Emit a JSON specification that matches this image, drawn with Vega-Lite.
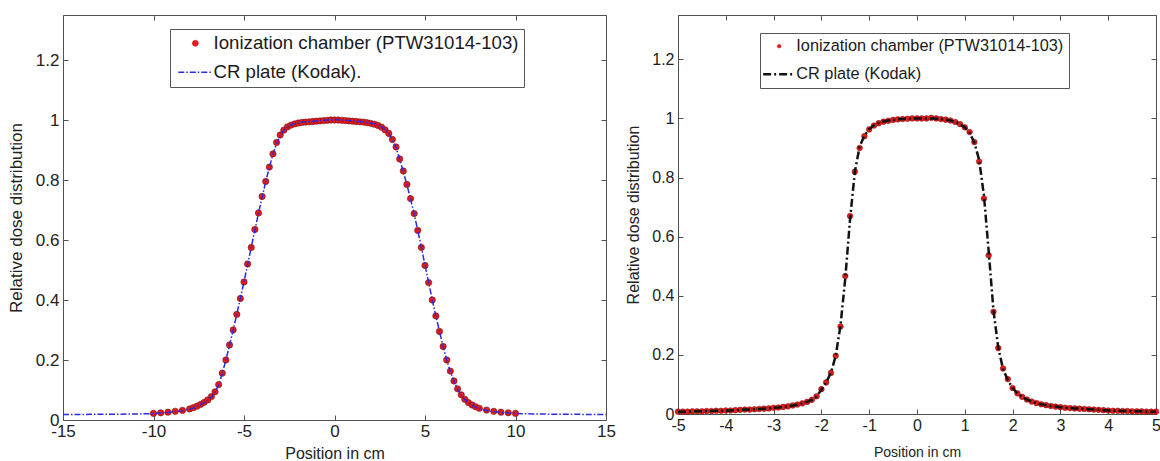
{
  "$schema": "https://vega.github.io/schema/vega-lite/v6.json",
  "background": "white",
  "padding": {"left": 7, "top": 9, "right": 0, "bottom": 2},
  "spacing": 9,
  "config": {
    "font": "Liberation Sans",
    "view": {"stroke": null},
    "axis": {
      "grid": false,
      "labelFlush": false,
      "labelOverlap": false,
      "domainColor": "#505050",
      "domainWidth": 1,
      "tickColor": "#505050",
      "tickSize": -5,
      "labelPadding": 8,
      "labelFont": "Liberation Sans",
      "labelColor": "#222222",
      "titleFont": "Liberation Sans",
      "titleFontWeight": "normal",
      "titleColor": "#222222"
    }
  },
  "resolve": {
    "scale": {"x": "independent", "y": "independent", "color": "independent"},
    "legend": {"color": "independent"}
  },
  "datasets": {
    "left": [
      {"x": -15, "ion": null, "cr": 0.018}, {"x": -14.5, "ion": null, "cr": 0.018}, {"x": -14, "ion": null, "cr": 0.018},
      {"x": -13.5, "ion": null, "cr": 0.019}, {"x": -13, "ion": null, "cr": 0.019}, {"x": -12.5, "ion": null, "cr": 0.019},
      {"x": -12, "ion": null, "cr": 0.019}, {"x": -11.5, "ion": null, "cr": 0.02}, {"x": -11, "ion": null, "cr": 0.02},
      {"x": -10.5, "ion": null, "cr": 0.021},
      {"x": -10, "ion": 0.022, "cr": 0.021}, {"x": -9.6, "ion": 0.024, "cr": 0.023}, {"x": -9.2, "ion": 0.026, "cr": 0.025},
      {"x": -8.8, "ion": 0.029, "cr": 0.028}, {"x": -8.4, "ion": 0.032, "cr": 0.031}, {"x": -8, "ion": 0.037, "cr": 0.036},
      {"x": -7.8, "ion": 0.041, "cr": 0.04}, {"x": -7.6, "ion": 0.046, "cr": 0.045}, {"x": -7.4, "ion": 0.052, "cr": 0.051},
      {"x": -7.2, "ion": 0.059, "cr": 0.058}, {"x": -7, "ion": 0.067, "cr": 0.066}, {"x": -6.8, "ion": 0.078, "cr": 0.077},
      {"x": -6.6, "ion": 0.094, "cr": 0.093}, {"x": -6.4, "ion": 0.118, "cr": 0.117}, {"x": -6.2, "ion": 0.156, "cr": 0.155},
      {"x": -6, "ion": 0.2, "cr": 0.2}, {"x": -5.8, "ion": 0.25, "cr": 0.249}, {"x": -5.6, "ion": 0.3, "cr": 0.3},
      {"x": -5.4, "ion": 0.352, "cr": 0.352}, {"x": -5.2, "ion": 0.405, "cr": 0.406}, {"x": -5, "ion": 0.46, "cr": 0.461},
      {"x": -4.8, "ion": 0.52, "cr": 0.518}, {"x": -4.6, "ion": 0.575, "cr": 0.576}, {"x": -4.4, "ion": 0.635, "cr": 0.633},
      {"x": -4.2, "ion": 0.69, "cr": 0.689}, {"x": -4, "ion": 0.745, "cr": 0.743}, {"x": -3.8, "ion": 0.795, "cr": 0.794},
      {"x": -3.6, "ion": 0.843, "cr": 0.842}, {"x": -3.4, "ion": 0.887, "cr": 0.886}, {"x": -3.2, "ion": 0.925, "cr": 0.922},
      {"x": -3, "ion": 0.95, "cr": 0.949}, {"x": -2.8, "ion": 0.966, "cr": 0.966}, {"x": -2.6, "ion": 0.977, "cr": 0.977},
      {"x": -2.4, "ion": 0.983, "cr": 0.984}, {"x": -2.2, "ion": 0.987, "cr": 0.988}, {"x": -2, "ion": 0.99, "cr": 0.991},
      {"x": -1.8, "ion": 0.992, "cr": 0.993}, {"x": -1.6, "ion": 0.993, "cr": 0.994}, {"x": -1.4, "ion": 0.994, "cr": 0.995},
      {"x": -1.2, "ion": 0.995, "cr": 0.996}, {"x": -1, "ion": 0.996, "cr": 0.997}, {"x": -0.8, "ion": 0.997, "cr": 0.998},
      {"x": -0.6, "ion": 0.998, "cr": 0.999}, {"x": -0.4, "ion": 0.999, "cr": 1.0}, {"x": -0.2, "ion": 1.0, "cr": 1.001},
      {"x": 0, "ion": 1.0, "cr": 1.001}, {"x": 0.2, "ion": 1.0, "cr": 1.001}, {"x": 0.4, "ion": 0.999, "cr": 1.0},
      {"x": 0.6, "ion": 0.998, "cr": 0.999}, {"x": 0.8, "ion": 0.997, "cr": 0.998}, {"x": 1, "ion": 0.996, "cr": 0.997},
      {"x": 1.2, "ion": 0.995, "cr": 0.996}, {"x": 1.4, "ion": 0.994, "cr": 0.995}, {"x": 1.6, "ion": 0.993, "cr": 0.994},
      {"x": 1.8, "ion": 0.991, "cr": 0.992}, {"x": 2, "ion": 0.989, "cr": 0.99}, {"x": 2.2, "ion": 0.986, "cr": 0.987},
      {"x": 2.4, "ion": 0.982, "cr": 0.983}, {"x": 2.6, "ion": 0.976, "cr": 0.977}, {"x": 2.8, "ion": 0.967, "cr": 0.968},
      {"x": 3, "ion": 0.955, "cr": 0.955}, {"x": 3.2, "ion": 0.935, "cr": 0.934}, {"x": 3.4, "ion": 0.91, "cr": 0.908},
      {"x": 3.6, "ion": 0.87, "cr": 0.869}, {"x": 3.8, "ion": 0.83, "cr": 0.828}, {"x": 4, "ion": 0.785, "cr": 0.784},
      {"x": 4.2, "ion": 0.738, "cr": 0.737}, {"x": 4.4, "ion": 0.688, "cr": 0.687}, {"x": 4.6, "ion": 0.632, "cr": 0.632},
      {"x": 4.8, "ion": 0.575, "cr": 0.575}, {"x": 5, "ion": 0.515, "cr": 0.516}, {"x": 5.2, "ion": 0.458, "cr": 0.458},
      {"x": 5.4, "ion": 0.4, "cr": 0.401}, {"x": 5.6, "ion": 0.347, "cr": 0.347}, {"x": 5.8, "ion": 0.295, "cr": 0.295},
      {"x": 6, "ion": 0.245, "cr": 0.245}, {"x": 6.2, "ion": 0.2, "cr": 0.2}, {"x": 6.4, "ion": 0.163, "cr": 0.162},
      {"x": 6.6, "ion": 0.13, "cr": 0.129}, {"x": 6.8, "ion": 0.104, "cr": 0.103}, {"x": 7, "ion": 0.084, "cr": 0.083},
      {"x": 7.2, "ion": 0.069, "cr": 0.068}, {"x": 7.4, "ion": 0.058, "cr": 0.057}, {"x": 7.6, "ion": 0.05, "cr": 0.049},
      {"x": 7.8, "ion": 0.044, "cr": 0.043}, {"x": 8, "ion": 0.039, "cr": 0.038}, {"x": 8.4, "ion": 0.033, "cr": 0.032},
      {"x": 8.8, "ion": 0.029, "cr": 0.028}, {"x": 9.2, "ion": 0.026, "cr": 0.025}, {"x": 9.6, "ion": 0.024, "cr": 0.023},
      {"x": 10, "ion": 0.022, "cr": 0.022},
      {"x": 10.5, "ion": null, "cr": 0.021}, {"x": 11, "ion": null, "cr": 0.02}, {"x": 11.5, "ion": null, "cr": 0.02},
      {"x": 12, "ion": null, "cr": 0.019}, {"x": 12.5, "ion": null, "cr": 0.019}, {"x": 13, "ion": null, "cr": 0.019},
      {"x": 13.5, "ion": null, "cr": 0.019}, {"x": 14, "ion": null, "cr": 0.018}, {"x": 14.5, "ion": null, "cr": 0.018},
      {"x": 15, "ion": null, "cr": 0.018}
    ],
    "right": [
      {"x": -5, "ion": 0.008, "cr": 0.008}, {"x": -4.9, "ion": 0.008, "cr": 0.008}, {"x": -4.8, "ion": 0.008, "cr": 0.008},
      {"x": -4.7, "ion": 0.009, "cr": 0.009}, {"x": -4.6, "ion": 0.009, "cr": 0.009}, {"x": -4.5, "ion": 0.009, "cr": 0.009},
      {"x": -4.4, "ion": 0.01, "cr": 0.01}, {"x": -4.3, "ion": 0.01, "cr": 0.01}, {"x": -4.2, "ion": 0.011, "cr": 0.011},
      {"x": -4.1, "ion": 0.011, "cr": 0.011}, {"x": -4, "ion": 0.012, "cr": 0.012}, {"x": -3.9, "ion": 0.012, "cr": 0.012},
      {"x": -3.8, "ion": 0.013, "cr": 0.013}, {"x": -3.7, "ion": 0.014, "cr": 0.014}, {"x": -3.6, "ion": 0.015, "cr": 0.015},
      {"x": -3.5, "ion": 0.015, "cr": 0.015}, {"x": -3.4, "ion": 0.016, "cr": 0.016}, {"x": -3.3, "ion": 0.017, "cr": 0.017},
      {"x": -3.2, "ion": 0.018, "cr": 0.018}, {"x": -3.1, "ion": 0.019, "cr": 0.019}, {"x": -3, "ion": 0.021, "cr": 0.021},
      {"x": -2.9, "ion": 0.022, "cr": 0.022}, {"x": -2.8, "ion": 0.024, "cr": 0.024}, {"x": -2.7, "ion": 0.026, "cr": 0.026},
      {"x": -2.6, "ion": 0.029, "cr": 0.029}, {"x": -2.5, "ion": 0.032, "cr": 0.032}, {"x": -2.4, "ion": 0.036, "cr": 0.036},
      {"x": -2.3, "ion": 0.041, "cr": 0.041}, {"x": -2.2, "ion": 0.048, "cr": 0.048}, {"x": -2.1, "ion": 0.06, "cr": 0.06},
      {"x": -2, "ion": 0.084, "cr": 0.082}, {"x": -1.9, "ion": 0.107, "cr": 0.107}, {"x": -1.8, "ion": 0.139, "cr": 0.14},
      {"x": -1.7, "ion": 0.197, "cr": 0.197}, {"x": -1.6, "ion": 0.296, "cr": 0.3}, {"x": -1.5, "ion": 0.467, "cr": 0.46},
      {"x": -1.4, "ion": 0.67, "cr": 0.66}, {"x": -1.3, "ion": 0.82, "cr": 0.82}, {"x": -1.2, "ion": 0.9, "cr": 0.905},
      {"x": -1.1, "ion": 0.94, "cr": 0.942}, {"x": -1, "ion": 0.963, "cr": 0.964}, {"x": -0.9, "ion": 0.976, "cr": 0.977},
      {"x": -0.8, "ion": 0.984, "cr": 0.985}, {"x": -0.7, "ion": 0.989, "cr": 0.99}, {"x": -0.6, "ion": 0.992, "cr": 0.993},
      {"x": -0.5, "ion": 0.995, "cr": 0.995}, {"x": -0.4, "ion": 0.997, "cr": 0.997}, {"x": -0.3, "ion": 0.998, "cr": 0.998},
      {"x": -0.2, "ion": 0.999, "cr": 0.999}, {"x": -0.1, "ion": 1.0, "cr": 1.0}, {"x": 0, "ion": 1.0, "cr": 1.0},
      {"x": 0.1, "ion": 1.0, "cr": 1.0}, {"x": 0.2, "ion": 1.0, "cr": 1.0}, {"x": 0.3, "ion": 1.002, "cr": 1.0},
      {"x": 0.4, "ion": 1.0, "cr": 0.999}, {"x": 0.5, "ion": 0.998, "cr": 0.998}, {"x": 0.6, "ion": 0.996, "cr": 0.996},
      {"x": 0.7, "ion": 0.993, "cr": 0.993}, {"x": 0.8, "ion": 0.988, "cr": 0.988}, {"x": 0.9, "ion": 0.981, "cr": 0.981},
      {"x": 1, "ion": 0.97, "cr": 0.97}, {"x": 1.1, "ion": 0.954, "cr": 0.952}, {"x": 1.2, "ion": 0.92, "cr": 0.918},
      {"x": 1.3, "ion": 0.854, "cr": 0.86}, {"x": 1.4, "ion": 0.729, "cr": 0.74}, {"x": 1.5, "ion": 0.537, "cr": 0.55},
      {"x": 1.6, "ion": 0.346, "cr": 0.35}, {"x": 1.7, "ion": 0.223, "cr": 0.225}, {"x": 1.8, "ion": 0.154, "cr": 0.152},
      {"x": 1.9, "ion": 0.118, "cr": 0.115}, {"x": 2, "ion": 0.088, "cr": 0.088}, {"x": 2.1, "ion": 0.07, "cr": 0.07},
      {"x": 2.2, "ion": 0.058, "cr": 0.058}, {"x": 2.3, "ion": 0.049, "cr": 0.049}, {"x": 2.4, "ion": 0.042, "cr": 0.042},
      {"x": 2.5, "ion": 0.037, "cr": 0.037}, {"x": 2.6, "ion": 0.033, "cr": 0.033}, {"x": 2.7, "ion": 0.03, "cr": 0.03},
      {"x": 2.8, "ion": 0.027, "cr": 0.027}, {"x": 2.9, "ion": 0.025, "cr": 0.025}, {"x": 3, "ion": 0.023, "cr": 0.023},
      {"x": 3.1, "ion": 0.021, "cr": 0.021}, {"x": 3.2, "ion": 0.02, "cr": 0.02}, {"x": 3.3, "ion": 0.019, "cr": 0.019},
      {"x": 3.4, "ion": 0.018, "cr": 0.018}, {"x": 3.5, "ion": 0.017, "cr": 0.017}, {"x": 3.6, "ion": 0.016, "cr": 0.016},
      {"x": 3.7, "ion": 0.015, "cr": 0.015}, {"x": 3.8, "ion": 0.014, "cr": 0.014}, {"x": 3.9, "ion": 0.013, "cr": 0.013},
      {"x": 4, "ion": 0.012, "cr": 0.012}, {"x": 4.1, "ion": 0.011, "cr": 0.011}, {"x": 4.2, "ion": 0.011, "cr": 0.011},
      {"x": 4.3, "ion": 0.01, "cr": 0.01}, {"x": 4.4, "ion": 0.01, "cr": 0.01}, {"x": 4.5, "ion": 0.009, "cr": 0.009},
      {"x": 4.6, "ion": 0.009, "cr": 0.009}, {"x": 4.7, "ion": 0.009, "cr": 0.009}, {"x": 4.8, "ion": 0.008, "cr": 0.008},
      {"x": 4.9, "ion": 0.008, "cr": 0.008}, {"x": 5, "ion": 0.008, "cr": 0.008}
    ]
  },
  "hconcat": [
    {
      "width": 543,
      "height": 405,
      "data": {"name": "left"},
      "resolve": {"axis": {"x": "independent", "y": "independent"}},
      "layer": [
        {
          "transform": [{"filter": "isValid(datum.ion)"}],
          "mark": {"type": "point", "filled": true, "size": 40, "stroke": "#7a1010", "strokeWidth": 0.6, "opacity": 1},
          "encoding": {
            "x": {"field": "x", "type": "quantitative",
              "scale": {"domain": [-15, 15], "nice": false, "zero": false},
              "axis": {"orient": "top", "labels": false, "title": null, "values": [-15, -10, -5, 0, 5, 10, 15]}},
            "y": {"field": "ion", "type": "quantitative",
              "scale": {"domain": [0, 1.35], "nice": false, "zero": false},
              "axis": {"orient": "right", "labels": false, "title": null, "values": [0, 0.2, 0.4, 0.6, 0.8, 1, 1.2]}},
            "color": {"datum": "Ionization chamber (PTW31014-103)"}
          }
        },
        {
          "mark": {"type": "line", "strokeWidth": 1.5, "strokeDash": [6, 2, 1.5, 2]},
          "encoding": {
            "x": {"field": "x", "type": "quantitative",
              "axis": {"orient": "bottom", "title": "Position in cm", "titleFontSize": 16, "titlePadding": 6,
                "labelFontSize": 17, "values": [-15, -10, -5, 0, 5, 10, 15], "labelExpr": "'' + datum.value"}},
            "y": {"field": "cr", "type": "quantitative",
              "axis": {"orient": "left", "title": "Relative dose distribution", "titleFontSize": 17, "titlePadding": 10,
                "labelFontSize": 17, "labelPadding": 9, "values": [0, 0.2, 0.4, 0.6, 0.8, 1, 1.2], "labelExpr": "'' + datum.value"}},
            "color": {"datum": "CR plate (Kodak).",
              "scale": {"domain": ["Ionization chamber (PTW31014-103)", "CR plate (Kodak)."], "range": ["#e01b1b", "#2a2ae0"]},
              "legend": {
                "orient": "none", "legendX": 107, "legendY": 14, "title": null, "direction": "vertical",
                "strokeColor": "#555555", "fillColor": "white", "padding": 5,
                "labelFont": "Liberation Sans", "labelFontSize": 18.6, "labelColor": "#1a1a1a", "labelLimit": 500,
                "symbolSize": 784, "symbolOffset": 11, "labelOffset": 9, "rowPadding": 10,
                "encode": {"symbols": {"update": {
                  "shape": {"signal": "datum.value === 'CR plate (Kodak).' ? 'stroke' : 'circle'"},
                  "size": {"signal": "datum.value === 'CR plate (Kodak).' ? 1156 : 36"},
                  "strokeDash": {"signal": "datum.value === 'CR plate (Kodak).' ? [6, 2, 1.5, 2] : [1, 0]"},
                  "strokeWidth": {"signal": "datum.value === 'CR plate (Kodak).' ? 1.5 : 0.6"},
                  "stroke": {"signal": "datum.value === 'CR plate (Kodak).' ? '#2a2ae0' : '#7a1010'"},
                  "fill": {"signal": "datum.value === 'CR plate (Kodak).' ? 'transparent' : '#e01b1b'"},
                  "opacity": {"value": 1}
                }}}
              }}
          }
        }
      ]
    },
    {
      "width": 478,
      "height": 399,
      "data": {"name": "right"},
      "resolve": {"axis": {"x": "independent", "y": "independent"}},
      "layer": [
        {
          "mark": {"type": "point", "filled": true, "size": 32, "stroke": "#7a1010", "strokeWidth": 0.5, "opacity": 1},
          "encoding": {
            "x": {"field": "x", "type": "quantitative",
              "scale": {"domain": [-5, 5], "nice": false, "zero": false},
              "axis": {"orient": "top", "title": null, "values": [-5, -4, -3, -2, -1, 0, 1, 2, 3, 4, 5],
                "labels": true, "labelColor": "white", "labelFontSize": 2, "labelPadding": 9, "labelExpr": "'.'"}},
            "y": {"field": "ion", "type": "quantitative",
              "scale": {"domain": [0, 1.35], "nice": false, "zero": false},
              "axis": {"orient": "right", "labels": false, "title": null, "values": [0, 0.2, 0.4, 0.6, 0.8, 1, 1.2]}},
            "color": {"datum": "Ionization chamber (PTW31014-103)"}
          }
        },
        {
          "mark": {"type": "line", "strokeWidth": 2.5, "strokeDash": [8, 3, 2, 3]},
          "encoding": {
            "x": {"field": "x", "type": "quantitative",
              "axis": {"orient": "bottom", "title": "Position in cm", "titleFontSize": 14, "titlePadding": 12,
                "labelFontSize": 16, "values": [-5, -4, -3, -2, -1, 0, 1, 2, 3, 4, 5], "labelExpr": "'' + datum.value"}},
            "y": {"field": "cr", "type": "quantitative",
              "axis": {"orient": "left", "title": "Relative dose distribution", "titleFontSize": 16, "titlePadding": 10,
                "labelFontSize": 16, "labelPadding": 9, "values": [0, 0.2, 0.4, 0.6, 0.8, 1, 1.2], "labelExpr": "'' + datum.value"}},
            "color": {"datum": "CR plate (Kodak)",
              "scale": {"domain": ["Ionization chamber (PTW31014-103)", "CR plate (Kodak)"], "range": ["#e01b1b", "#111111"]},
              "legend": {
                "orient": "none", "legendX": 82, "legendY": 18, "title": null, "direction": "vertical",
                "strokeColor": "#555555", "fillColor": "white", "padding": 5,
                "labelFont": "Liberation Sans", "labelFontSize": 16.3, "labelColor": "#1a1a1a", "labelLimit": 500,
                "symbolSize": 784, "symbolOffset": 6, "labelOffset": 9, "rowPadding": 11,
                "encode": {"symbols": {"update": {
                  "shape": {"signal": "datum.value === 'CR plate (Kodak)' ? 'stroke' : 'circle'"},
                  "size": {"signal": "datum.value === 'CR plate (Kodak)' ? 1024 : 14"},
                  "strokeDash": {"signal": "datum.value === 'CR plate (Kodak)' ? [8, 3, 2, 3] : [1, 0]"},
                  "strokeWidth": {"signal": "datum.value === 'CR plate (Kodak)' ? 2.5 : 0.4"},
                  "stroke": {"signal": "datum.value === 'CR plate (Kodak)' ? '#111111' : '#7a1010'"},
                  "fill": {"signal": "datum.value === 'CR plate (Kodak)' ? 'transparent' : '#e01b1b'"},
                  "opacity": {"value": 1}
                }}}
              }}
          }
        }
      ]
    }
  ]
}
